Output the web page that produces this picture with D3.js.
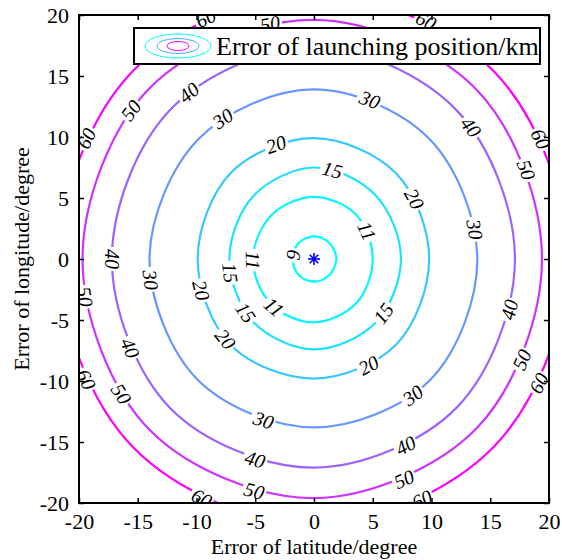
<!DOCTYPE html>
<html lang="en">
<head>
<meta charset="UTF-8">
<script src="https://d3js.org/d3.v7.min.js"></script>
<style>
    body, html {
        margin: 0;
        padding: 0;
        background: #fff;
        overflow: hidden;
    }
    .tick line {
        stroke: #000;
        stroke-width: 1.5px;
    }
</style>
</head>
<body>
<div id="chart"></div>
<script>
// contour levels and the radius (degrees) of each contour, read at 8 directions
const levels = [9, 11, 15, 20, 30, 40, 50, 60];
const sampleAngles = [0, 45, 90, 135, 180, 225, 270, 315];
const radius9  = [1.9, 1.85, 1.85, 1.85, 1.8, 1.85, 1.85, 1.85];
const radius11 = [5.0, 5.1, 5.1, 5.1, 5.2, 5.2, 5.2, 5.1];
const radius15 = [7.4, 7.4, 7.5, 7.3, 7.2, 7.3, 7.4, 7.4];
const radius20 = [9.8, 9.9, 9.9, 10.0, 9.9, 10.0, 9.8, 9.9];
const radius30 = [13.9, 13.9, 13.9, 13.9, 14.0, 14.0, 13.8, 14.0];
const radius40 = [17.1, 17.2, 17.4, 17.3, 17.2, 17.3, 17.1, 17.2];
const radius50 = [19.4, 19.6, 19.6, 19.8, 19.7, 19.8, 19.6, 19.6];
const radius60 = [21.6, 21.7, 21.8, 21.8, 21.7, 21.8, 21.8, 21.7];
const contourRadii = [radius9, radius11, radius15, radius20, radius30, radius40, radius50, radius60];

// inline contour labels: level and direction (degrees) where it sits
const labelLevels = [60, 50, 60, 50, 40, 30, 20, 15, 11, 30, 40, 60, 50, 20, 30,
                     9, 11, 15, 20, 30, 40, 50, 15, 11, 20, 15, 20, 30, 40, 50, 60,
                     60, 50, 40, 30, 40, 50, 60, 40, 50, 60, 60];
const labelAngles = [115, 101, 64, 142, 128, 124, 109, 78, 27, 70, 39, 27, 22, 30, 10,
                     170, 181, 189, 195, 187, 180, 189, 217, 229, 221, 323, 298, 307, 346, 335, 332,
                     207, 214, 205, 252, 253, 255, 244, 297, 293, 295, 153];

const xTicks = [-20, -15, -10, -5, 0, 5, 10, 15, 20];
const yTicks = [-20, -15, -10, -5, 0, 5, 10, 15, 20];
const launchPoint = [0, 0];

const serif = "'Liberation Serif', 'Times New Roman', Times, serif";

const margin = {top: 15, right: 13, bottom: 57, left: 79},
    W = 562, H = 560,
    width = W - margin.left - margin.right,
    height = H - margin.top - margin.bottom;

const svg = d3.select("#chart").append("svg")
    .attr("width", W)
    .attr("height", H);

const g = svg.append("g")
    .attr("transform", `translate(${margin.left},${margin.top})`);

const x = d3.scaleLinear().domain([-20, 20]).range([0, width]);
const y = d3.scaleLinear().domain([-20, 20]).range([height, 0]);

const color = d3.scaleLinear()
    .domain([d3.min(levels), d3.max(levels)])
    .range(["#00ffff", "#ff00ff"]);

g.append("clipPath").attr("id", "plotclip")
    .append("rect").attr("width", width).attr("height", height);

const plot = g.append("g").attr("clip-path", "url(#plotclip)");

const rad = a => a * Math.PI / 180;

function radiusAt(radii, a) {
    a = ((a % 360) + 360) % 360;
    const i = Math.floor(a / 45), j = (i + 1) % 8;
    const t = (a - i * 45) / 45;
    return radii[i] * (1 - t) + radii[j] * t;
}

function pointAt(radii, a) {
    const r = radiusAt(radii, a);
    return [x(r * Math.cos(rad(a))), y(r * Math.sin(rad(a)))];
}

const line = d3.line().curve(d3.curveCatmullRomClosed.alpha(0.5));

plot.selectAll(".contour")
    .data(levels)
    .enter()
    .append("path")
    .attr("class", "contour")
    .attr("fill", "none")
    .attr("stroke", d => color(d))
    .attr("stroke-width", 2.2)
    .attr("d", (d, i) => line(sampleAngles.map((a, k) =>
        [x(contourRadii[i][k] * Math.cos(rad(a))), y(contourRadii[i][k] * Math.sin(rad(a)))])));

// labels
const labels = labelLevels.map((lv, i) => {
    const radii = contourRadii[levels.indexOf(lv)];
    const a = labelAngles[i];
    const p = pointAt(radii, a);
    const p1 = pointAt(radii, a - 1), p2 = pointAt(radii, a + 1);
    let rot = Math.atan2(p2[1] - p1[1], p2[0] - p1[0]) * 180 / Math.PI;
    while (rot > 90) rot -= 180;
    while (rot <= -90) rot += 180;
    return {level: lv, x: p[0], y: p[1], rot: rot};
});

const lab = plot.selectAll(".lab")
    .data(labels)
    .enter()
    .append("g")
    .attr("class", "lab")
    .attr("transform", d => `translate(${d.x},${d.y}) rotate(${d.rot})`);

lab.append("rect")
    .attr("fill", "#fff");

lab.append("text")
    .attr("text-anchor", "middle")
    .attr("dy", "0.35em")
    .style("font-family", serif)
    .style("font-size", "20px")
    .style("font-style", "italic")
    .text(d => d.level);

lab.each(function() {
    const t = d3.select(this).select("text").node().getBBox();
    d3.select(this).select("rect")
        .attr("x", t.x - 2)
        .attr("y", -6)
        .attr("width", t.width + 4)
        .attr("height", 12);
});

// launching point marker
const star = g.append("g")
    .attr("transform", `translate(${x(launchPoint[0])},${y(launchPoint[1])})`);
[[-6, 0, 6, 0], [0, -6, 0, 6], [-4.3, -4.3, 4.3, 4.3], [-4.3, 4.3, 4.3, -4.3]].forEach(s => {
    star.append("line")
        .attr("x1", s[0]).attr("y1", s[1]).attr("x2", s[2]).attr("y2", s[3])
        .attr("stroke", "#0000ff").attr("stroke-width", 1.6);
});

// axes
const fmt = d => String(d);
g.append("g")
    .attr("transform", `translate(0,${height})`)
    .call(d3.axisBottom(x).tickValues(xTicks).tickFormat(fmt).tickSize(-5).tickPadding(10))
    .call(a => a.select(".domain").remove());
g.append("g")
    .call(d3.axisLeft(y).tickValues(yTicks).tickFormat(fmt).tickSize(-5).tickPadding(10))
    .call(a => a.select(".domain").remove());
g.append("g")
    .call(d3.axisTop(x).tickValues(xTicks).tickFormat("").tickSize(-5))
    .call(a => a.select(".domain").remove());
g.append("g")
    .attr("transform", `translate(${width},0)`)
    .call(d3.axisRight(y).tickValues(yTicks).tickFormat("").tickSize(-5))
    .call(a => a.select(".domain").remove());

g.selectAll(".tick text")
    .style("font-family", serif)
    .style("font-size", "22px")
    .style("fill", "#000");

g.append("rect")
    .attr("width", width)
    .attr("height", height)
    .attr("fill", "none")
    .attr("stroke", "#000")
    .attr("stroke-width", 2);

svg.append("text")
    .attr("x", margin.left + width / 2)
    .attr("y", 554)
    .attr("text-anchor", "middle")
    .style("font-family", serif)
    .style("font-size", "22px")
    .text("Error of latitude/degree");

svg.append("text")
    .attr("transform", `translate(29,${margin.top + height / 2}) rotate(-90)`)
    .attr("text-anchor", "middle")
    .style("font-family", serif)
    .style("font-size", "22px")
    .text("Error of longitude/degree");

// legend
const legend = svg.append("g").attr("transform", "translate(134,28)");
legend.append("rect")
    .attr("width", 406)
    .attr("height", 36)
    .attr("fill", "#fff")
    .attr("stroke", "#000")
    .attr("stroke-width", 2);
[[33, 12, "#00ffff"], [21, 7.5, "#40b0ff"], [11, 4.5, "#ff00ff"]].forEach(e => {
    legend.append("ellipse")
        .attr("cx", 44).attr("cy", 18)
        .attr("rx", e[0]).attr("ry", e[1])
        .attr("fill", "none")
        .attr("stroke", e[2])
        .attr("stroke-width", 1);
});
legend.append("text")
    .attr("x", 82)
    .attr("y", 27)
    .style("font-family", serif)
    .style("font-size", "26px")
    .text("Error of launching position/km");
</script>
</body>
</html>
